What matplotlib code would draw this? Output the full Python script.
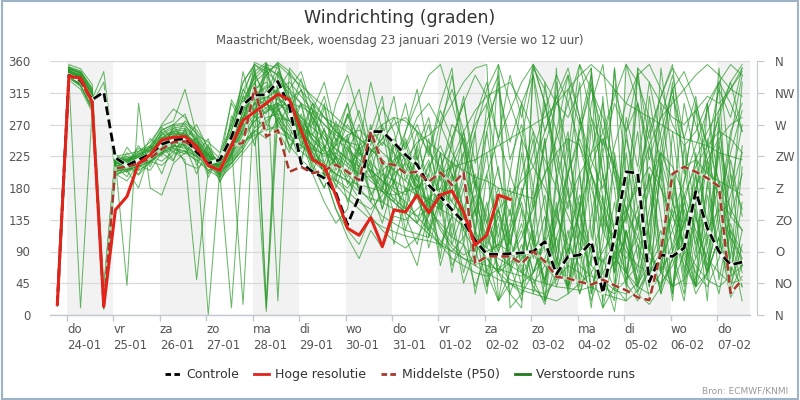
import numpy as np
import matplotlib
matplotlib.use("Agg")
import matplotlib.pyplot as plt
from matplotlib.lines import Line2D
from matplotlib.patches import Rectangle

# ---------------- data ----------------
day_names = ["do", "vr", "za", "zo", "ma", "di", "wo", "do", "vr", "za", "zo", "ma", "di", "wo", "do"]
day_dates = ["24-01", "25-01", "26-01", "27-01", "28-01", "29-01", "30-01", "31-01",
             "01-02", "02-02", "03-02", "04-02", "05-02", "06-02", "07-02"]
shaded_days = [0, 2, 4, 6, 8, 10, 12, 14]
compass_labels = ["N", "NO", "O", "ZO", "Z", "ZW", "W", "NW", "N"]
degree_ticks = [0, 45, 90, 135, 180, 225, 270, 315, 360]

start_hour = -5      # first forecast time, hours relative to 24-01 00:00
step_hours = 6

controle = [15, 340, 332, 305, 316, 223, 212, 220, 228, 242,
            248, 250, 231, 215, 220, 252, 298, 312, 312, 331,
            295, 215, 203, 194, 173, 128, 168, 260, 260, 244,
            227, 213, 184, 168, 149, 132, 106, 86, 86, 87,
            88, 90, 104, 58, 83, 85, 104, 31, 112, 203,
            201, 47, 85, 83, 95, 175, 123, 90, 71, 75]

hoge_resolutie = [15, 338, 336, 302, 12, 149, 168, 215, 227, 248,
                  252, 253, 239, 212, 205, 240, 276, 288, 300, 313,
                  305, 262, 220, 211, 169, 123, 113, 138, 97, 149,
                  146, 170, 145, 170, 176, 146, 99, 113, 170, 164]

middelste = [15, 340, 333, 300, 12, 208, 210, 215, 222, 235,
             245, 246, 235, 212, 205, 240, 244, 322, 253, 262,
             203, 210, 201, 205, 213, 203, 191, 260, 215, 213,
             201, 203, 189, 202, 184, 202, 73, 83, 83, 83,
             73, 90, 76, 54, 52, 47, 43, 50, 42, 35,
             25, 21, 90, 200, 210, 203, 194, 182, 31, 50]

verstoord_01 = [15, 345, 338, 305, 18, 212, 208, 218, 226, 238, 248, 250, 232, 212, 206, 245, 290, 305, 300, 285,
                240, 220, 205, 200, 190, 175, 160, 150, 170, 200, 215, 190, 160, 120, 95, 80, 70, 85, 100, 90,
                60, 45, 70, 110, 160, 200, 230, 250, 210, 170, 130, 90, 60, 40, 50, 80, 120, 150, 110, 80]
verstoord_02 = [12, 340, 330, 298, 12, 205, 215, 222, 230, 245, 255, 258, 240, 215, 200, 230, 270, 320, 330, 310,
                290, 260, 240, 225, 230, 215, 200, 205, 190, 175, 160, 140, 150, 130, 110, 100, 70, 60, 50, 45,
                40, 35, 30, 50, 70, 60, 40, 30, 25, 20, 35, 60, 90, 200, 210, 220, 200, 190, 180, 170]
verstoord_03 = [18, 350, 342, 310, 30, 220, 225, 215, 220, 232, 240, 238, 228, 218, 210, 260, 300, 340, 355, 350,
                300, 280, 250, 230, 215, 205, 235, 250, 260, 240, 220, 245, 255, 270, 300, 330, 350, 355, 20, 45,
                30, 355, 330, 300, 280, 320, 350, 10, 40, 20, 350, 330, 300, 280, 270, 290, 310, 300, 320, 345]
verstoord_04 = [15, 338, 325, 292, 8, 198, 205, 212, 222, 236, 242, 246, 236, 220, 204, 228, 262, 285, 298, 292,
                270, 245, 235, 228, 240, 255, 262, 248, 230, 215, 205, 180, 200, 150, 175, 120, 150, 95, 140, 80,
                120, 60, 110, 40, 95, 30, 80, 140, 60, 120, 45, 100, 30, 80, 20, 140, 60, 110, 35, 70]
verstoord_05 = [16, 343, 336, 300, 15, 210, 212, 225, 228, 250, 262, 265, 250, 225, 212, 255, 310, 358, 350, 340,
                320, 345, 290, 330, 260, 300, 235, 200, 180, 165, 150, 140, 120, 100, 80, 70, 60, 55, 65, 80,
                110, 150, 200, 230, 250, 240, 200, 160, 120, 90, 70, 60, 80, 120, 170, 210, 240, 260, 250, 230]
verstoord_06 = [14, 347, 340, 315, 25, 218, 42, 300, 180, 170, 215, 230, 220, 205, 195, 210, 230, 250, 270, 260,
                250, 240, 230, 215, 200, 190, 185, 180, 175, 170, 175, 180, 190, 200, 210, 215, 220, 230, 240, 250,
                260, 270, 280, 300, 320, 340, 355, 340, 320, 300, 290, 280, 270, 260, 250, 245, 240, 230, 225, 220]
verstoord_07 = [13, 335, 10, 290, 10, 208, 218, 228, 234, 258, 268, 270, 245, 225, 210, 240, 280, 300, 310, 320,
                330, 310, 290, 280, 270, 260, 250, 235, 220, 205, 190, 175, 160, 150, 140, 125, 110, 95, 80, 70,
                60, 50, 45, 40, 38, 35, 40, 60, 90, 140, 190, 240, 280, 300, 320, 340, 355, 340, 320, 310]
verstoord_08 = [15, 341, 333, 303, 22, 215, 215, 210, 218, 230, 238, 242, 232, 0, 205, 215, 235, 260, 5, 280,
                275, 265, 255, 240, 225, 210, 200, 195, 205, 220, 230, 190, 220, 160, 200, 130, 170, 100, 150, 80,
                130, 60, 110, 350, 40, 90, 20, 70, 160, 50, 100, 25, 80, 150, 40, 200, 90, 30, 120, 60]
verstoord_09 = [17, 352, 346, 320, 35, 225, 228, 232, 245, 268, 275, 320, 255, 230, 215, 275, 330, 355, 345, 330,
                315, 300, 290, 270, 250, 235, 220, 205, 190, 180, 170, 200, 150, 230, 140, 190, 120, 260, 150, 100,
                180, 110, 40, 150, 80, 200, 30, 120, 350, 60, 140, 40, 220, 90, 30, 160, 50, 250, 110, 40]
verstoord_10 = [14, 344, 337, 302, 16, 207, 211, 219, 224, 242, 251, 247, 235, 214, 203, 262, 318, 350, 20, 300,
                285, 255, 210, 180, 230, 270, 240, 200, 160, 190, 230, 170, 120, 160, 210, 250, 190, 140, 90, 130,
                200, 260, 150, 80, 40, 120, 230, 300, 200, 100, 50, 130, 240, 320, 210, 110, 60, 150, 260, 300]
verstoord_11 = [16, 337, 328, 296, 14, 202, 209, 214, 220, 233, 240, 236, 225, 216, 208, 222, 250, 275, 290, 300,
                310, 270, 230, 200, 150, 120, 100, 140, 180, 220, 260, 300, 340, 355, 300, 240, 180, 120, 60, 30,
                10, 350, 320, 260, 200, 140, 90, 50, 20, 355, 330, 280, 220, 160, 100, 60, 40, 80, 140, 200]
verstoord_12 = [15, 349, 343, 312, 28, 222, 218, 224, 229, 255, 260, 262, 248, 228, 214, 250, 292, 318, 340, 358,
                345, 320, 280, 250, 220, 200, 180, 160, 140, 130, 120, 115, 110, 200, 270, 250, 120, 80, 60, 75,
                85, 40, 20, 60, 110, 170, 90, 40, 30, 50, 70, 150, 230, 190, 80, 40, 60, 110, 170, 230]
verstoord_13 = [13, 342, 332, 299, 20, 213, 206, 216, 223, 240, 245, 240, 230, 210, 198, 215, 240, 265, 280, 285,
                275, 260, 240, 200, 150, 110, 80, 120, 95, 140, 135, 150, 165, 180, 160, 140, 110, 90, 100, 120,
                170, 230, 290, 340, 300, 240, 180, 120, 80, 60, 40, 30, 60, 100, 160, 220, 260, 290, 320, 350]
verstoord_14 = [15, 346, 339, 308, 24, 216, 213, 223, 231, 249, 258, 255, 240, 222, 209, 232, 275, 300, 310, 305,
                296, 280, 265, 250, 235, 222, 210, 230, 250, 270, 280, 260, 230, 210, 250, 300, 340, 310, 250, 200,
                150, 100, 70, 50, 90, 150, 210, 260, 310, 355, 300, 240, 180, 120, 70, 40, 90, 160, 230, 290]
verstoord_15 = [14, 339, 327, 294, 10, 203, 210, 217, 221, 231, 236, 233, 226, 213, 202, 220, 245, 255, 262, 268,
                255, 240, 225, 210, 200, 190, 175, 165, 160, 150, 145, 175, 210, 240, 200, 150, 100, 80, 60, 45,
                35, 30, 25, 20, 30, 45, 60, 90, 120, 150, 180, 210, 180, 140, 100, 70, 50, 40, 55, 70]
verstoord_16 = [17, 348, 344, 318, 33, 224, 220, 230, 238, 262, 270, 272, 258, 232, 217, 258, 300, 330, 345, 355,
                340, 325, 310, 295, 280, 265, 250, 235, 220, 205, 240, 280, 300, 270, 230, 200, 260, 320, 355, 300,
                250, 210, 260, 310, 350, 280, 220, 180, 240, 300, 340, 355, 320, 270, 240, 260, 300, 330, 300, 260]
verstoord_17 = [15, 343, 334, 301, 17, 209, 214, 220, 227, 244, 252, 252, 238, 219, 207, 238, 282, 310, 325, 315,
                300, 270, 248, 232, 300, 340, 280, 230, 250, 310, 210, 185, 155, 125, 100, 85, 95, 120, 150, 170,
                190, 210, 180, 140, 100, 70, 55, 50, 75, 110, 150, 190, 230, 210, 170, 120, 80, 60, 45, 50]
verstoord_18 = [14, 341, 330, 297, 13, 206, 207, 213, 219, 235, 244, 244, 234, 217, 205, 225, 255, 275, 288, 296,
                300, 295, 285, 270, 255, 245, 240, 255, 270, 280, 275, 260, 245, 230, 215, 205, 195, 190, 180, 175,
                170, 165, 200, 250, 300, 355, 320, 260, 200, 150, 110, 80, 65, 90, 130, 180, 220, 250, 270, 280]
verstoord_19 = [16, 350, 341, 311, 27, 219, 221, 226, 236, 256, 265, 268, 252, 226, 211, 248, 300, 345, 358, 20,
                350, 330, 305, 280, 260, 245, 230, 215, 200, 190, 180, 170, 165, 155, 190, 230, 270, 300, 340, 10,
                30, 60, 100, 150, 200, 250, 200, 150, 100, 60, 30, 15, 40, 80, 130, 180, 230, 280, 330, 355]
verstoord_20 = [15, 344, 335, 300, 19, 211, 209, 221, 225, 243, 250, 249, 237, 218, 206, 235, 268, 290, 300, 275,
                250, 232, 218, 204, 192, 180, 200, 225, 245, 230, 200, 165, 130, 105, 90, 110, 150, 200, 250, 290,
                330, 355, 300, 230, 170, 120, 90, 75, 100, 140, 200, 260, 310, 350, 320, 270, 220, 170, 140, 120]
verstoord_21 = [13, 336, 326, 293, 9, 200, 204, 211, 217, 229, 234, 232, 224, 212, 200, 218, 242, 260, 275, 290,
                305, 318, 300, 280, 260, 240, 215, 195, 175, 160, 145, 130, 115, 100, 90, 80, 75, 70, 65, 60,
                55, 90, 48, 110, 42, 160, 38, 80, 35, 120, 32, 70, 40, 160, 95, 40, 190, 90, 200, 150]
verstoord_22 = [16, 345, 337, 306, 345, 214, 216, 224, 232, 252, 260, 258, 244, 223, 211, 252, 305, 335, 352, 340,
                300, 250, 200, 160, 130, 150, 240, 330, 260, 180, 110, 70, 150, 260, 340, 240, 150, 60, 20, 120,
                250, 340, 200, 90, 40, 150, 300, 355, 220, 100, 40, 90, 200, 310, 250, 140, 70, 130, 250, 340]
verstoord_23 = [15, 342, 331, 298, 14, 206, 212, 218, 224, 237, 246, 245, 233, 216, 204, 226, 258, 280, 294, 300,
                290, 275, 255, 235, 215, 190, 165, 140, 120, 105, 95, 110, 140, 180, 220, 260, 290, 310, 320, 330,
                300, 260, 220, 180, 140, 100, 70, 50, 35, 30, 45, 70, 100, 140, 190, 240, 290, 330, 355, 340]
verstoord_24 = [14, 347, 339, 313, 26, 217, 219, 227, 233, 250, 257, 256, 242, 221, 209, 244, 288, 312, 322, 330,
                320, 300, 280, 255, 235, 220, 205, 190, 175, 160, 145, 130, 200, 275, 320, 260, 190, 130, 90, 70,
                90, 160, 240, 300, 340, 280, 200, 140, 100, 80, 110, 180, 260, 320, 345, 300, 240, 190, 150, 120]
verstoord_25 = [15, 340, 329, 295, 11, 204, 206, 215, 222, 239, 247, 251, 239, 220, 207, 229, 265, 292, 308, 318,
                290, 255, 225, 205, 185, 165, 150, 135, 125, 118, 112, 108, 105, 100, 140, 200, 160, 110, 70, 50,
                45, 60, 80, 130, 200, 260, 320, 280, 210, 150, 100, 60, 45, 70, 110, 160, 210, 170, 120, 90]
verstoord_26 = [14, 343, 335, 301, 15, 211, 196, 224, 215, 252, 238, 262, 226, 230, 196, 282, 255, 330, 270, 300,
                235, 265, 205, 240, 190, 255, 175, 220, 150, 205, 120, 185, 95, 160, 60, 140, 30, 110, 355, 60,
                150, 30, 120, 260, 340, 200, 70, 310, 40, 180, 300, 100, 350, 220, 60, 150, 20, 270, 140, 330]
verstoord_27 = [16, 351, 345, 322, 12, 216, 222, 206, 238, 225, 270, 243, 250, 200, 222, 238, 345, 280, 355, 262,
                230, 285, 248, 198, 270, 212, 240, 160, 215, 100, 165, 240, 190, 80, 200, 130, 260, 40, 170, 90,
                230, 110, 20, 190, 260, 80, 350, 160, 60, 230, 120, 310, 200, 30, 240, 90, 180, 330, 50, 210]
verstoord_28 = [15, 339, 326, 296, 28, 205, 230, 212, 205, 230, 218, 265, 212, 242, 188, 225, 290, 240, 320, 268,
                300, 220, 275, 190, 245, 300, 200, 260, 310, 185, 260, 320, 230, 300, 350, 200, 280, 330, 250, 340,
                280, 355, 300, 200, 320, 270, 340, 230, 300, 260, 340, 250, 310, 355, 200, 290, 240, 320, 280, 350]
verstoord_29 = [15, 346, 340, 310, 20, 220, 215, 232, 240, 270, 292, 280, 255, 245, 230, 268, 330, 355, 340, 358,
                290, 320, 255, 300, 220, 285, 250, 200, 265, 230, 150, 200, 110, 170, 70, 100, 40, 90, 20, 60,
                100, 50, 15, 80, 35, 120, 60, 10, 90, 45, 20, 70, 120, 40, 90, 30, 60, 110, 25, 55]
verstoord_30 = [13, 341, 332, 298, 18, 198, 210, 200, 225, 218, 232, 220, 50, 205, 215, 230, 262, 300, 285, 320,
                345, 260, 300, 235, 275, 225, 195, 250, 205, 160, 220, 180, 250, 150, 220, 120, 90, 160, 60, 110,
                40, 95, 170, 60, 230, 150, 280, 200, 120, 250, 180, 280, 60, 200, 110, 40, 170, 90, 220, 140]
verstoord_31 = [17, 355, 349, 327, 40, 228, 212, 240, 210, 246, 230, 255, 245, 195, 228, 300, 270, 345, 300, 280,
                260, 215, 290, 240, 180, 230, 270, 210, 150, 240, 300, 220, 270, 190, 240, 310, 180, 260, 330, 220,
                270, 180, 300, 220, 150, 260, 330, 200, 120, 280, 210, 330, 250, 160, 300, 220, 120, 240, 180, 270]
verstoord_32 = [14, 333, 320, 288, 12, 210, 205, 180, 232, 200, 245, 215, 208, 220, 190, 215, 235, 282, 260, 310,
                275, 300, 240, 200, 225, 160, 210, 175, 130, 190, 140, 100, 170, 70, 130, 45, 95, 30, 150, 70,
                20, 110, 50, 160, 30, 90, 200, 60, 5, 120, 60, 200, 100, 30, 150, 80, 250, 120, 40, 100]
verstoord_33 = [15, 347, 337, 300, 330, 200, 190, 215, 228, 242, 260, 240, 200, 238, 212, 305, 275, 355, 10, 345,
                320, 270, 230, 295, 210, 250, 190, 230, 180, 250, 200, 260, 160, 230, 110, 180, 80, 150, 210, 100,
                170, 250, 90, 330, 180, 50, 270, 120, 350, 200, 80, 240, 140, 20, 190, 300, 100, 230, 60, 160]
verstoord_34 = [16, 349, 343, 316, 22, 213, 224, 219, 250, 236, 265, 248, 270, 235, 200, 250, 280, 320, 302, 345,
                310, 240, 280, 215, 260, 245, 290, 230, 270, 205, 250, 195, 240, 170, 215, 150, 200, 130, 180, 110,
                160, 80, 140, 60, 120, 30, 100, 200, 70, 150, 40, 130, 210, 90, 170, 50, 110, 190, 70, 40]
verstoord_35 = [14, 338, 328, 295, 16, 204, 238, 216, 220, 260, 236, 228, 252, 210, 205, 240, 300, 265, 350, 295,
                250, 300, 220, 265, 195, 235, 210, 270, 185, 215, 245, 170, 215, 140, 250, 100, 190, 60, 130, 30,
                80, 180, 20, 140, 250, 110, 10, 170, 60, 260, 150, 40, 220, 330, 120, 200, 60, 280, 100, 20]
verstoord_36 = [15, 344, 336, 304, 24, 218, 208, 228, 238, 262, 270, 285, 240, 226, 218, 270, 320, 298, 340, 310,
                275, 250, 300, 260, 240, 285, 225, 265, 240, 280, 235, 270, 225, 290, 250, 300, 215, 275, 320, 245,
                300, 340, 260, 310, 230, 355, 280, 240, 320, 260, 300, 220, 280, 340, 250, 310, 200, 290, 330, 260]
verstoord_37 = [13, 336, 324, 291, 10, 201, 215, 198, 218, 212, 228, 232, 218, 228, 200, 10, 245, 262, 250, 278,
                240, 260, 215, 180, 225, 195, 240, 170, 200, 145, 180, 130, 160, 95, 140, 60, 120, 40, 90, 150,
                70, 120, 45, 200, 90, 150, 30, 100, 220, 60, 130, 200, 80, 40, 160, 100, 220, 50, 130, 70]
verstoord_38 = [16, 350, 344, 318, 30, 226, 218, 236, 232, 266, 248, 275, 262, 238, 222, 262, 310, 290, 358, 320,
                288, 335, 270, 310, 245, 280, 320, 240, 295, 260, 190, 240, 280, 200, 160, 230, 110, 300, 200, 140,
                250, 100, 330, 200, 60, 280, 160, 20, 230, 130, 350, 180, 60, 260, 140, 40, 300, 180, 80, 240]
verstoord_39 = [15, 342, 333, 302, 14, 208, 220, 205, 215, 240, 220, 250, 232, 205, 212, 242, 15, 312, 292, 290,
                265, 235, 290, 205, 250, 185, 230, 210, 175, 245, 175, 225, 140, 200, 100, 150, 70, 200, 110, 180,
                60, 130, 250, 90, 180, 40, 140, 230, 80, 170, 260, 110, 30, 200, 90, 170, 300, 140, 40, 120]
verstoord_40 = [14, 345, 338, 306, 19, 214, 202, 221, 240, 228, 256, 238, 228, 250, 195, 228, 290, 340, 310, 355,
                300, 275, 235, 262, 205, 240, 175, 255, 220, 190, 150, 235, 120, 210, 175, 260, 140, 230, 95, 200,
                300, 150, 250, 70, 200, 330, 110, 250, 180, 40, 200, 90, 300, 170, 50, 230, 130, 350, 200, 70]

verstoorde_runs = [verstoord_01, verstoord_02, verstoord_03, verstoord_04, verstoord_05,
                   verstoord_06, verstoord_07, verstoord_08, verstoord_09, verstoord_10,
                   verstoord_11, verstoord_12, verstoord_13, verstoord_14, verstoord_15,
                   verstoord_16, verstoord_17, verstoord_18, verstoord_19, verstoord_20,
                   verstoord_21, verstoord_22, verstoord_23, verstoord_24, verstoord_25,
                   verstoord_26, verstoord_27, verstoord_28, verstoord_29, verstoord_30,
                   verstoord_31, verstoord_32, verstoord_33, verstoord_34, verstoord_35,
                   verstoord_36, verstoord_37, verstoord_38, verstoord_39, verstoord_40]

# ---------------- plot ----------------
def times(n):
    return (start_hour + step_hours * np.arange(n)) / 24.0

fig = plt.figure(figsize=(8, 4), dpi=100)
fig.patch.set_facecolor("white")
ax = fig.add_axes([0.0625, 0.2125, 0.875, 0.635])

x0, x1 = -0.366, 14.71
ax.set_xlim(x0, x1)
ax.set_ylim(0, 360)

for d in shaded_days:
    ax.axvspan(d, d + 1, color="#f2f2f2", zorder=0, lw=0)

for v in degree_ticks:
    ax.axhline(v, color="#d9d9d9", lw=0.9, zorder=1)

green = "#2a9a2a"
for run in verstoorde_runs:
    ax.plot(times(len(run)), run, color=green, lw=0.75, alpha=0.7, zorder=2)

t_c = times(len(controle))
ax.plot(t_c, controle, color="white", lw=2.6, alpha=0.9, zorder=4)
ax.plot(t_c, controle, color="black", lw=2.0, ls=(0, (3.2, 1.6)), zorder=5)

t_m = times(len(middelste))
ax.plot(t_m, middelste, color="white", lw=2.4, alpha=0.6, zorder=4)
ax.plot(t_m, middelste, color="#a8372c", lw=1.8, ls=(0, (3.2, 1.6)), zorder=5)

t_h = times(len(hoge_resolutie))
ax.plot(t_h, hoge_resolutie, color="#e0241b", lw=2.2, zorder=6)

for s in ["left", "top", "right"]:
    ax.spines[s].set_visible(False)
ax.spines["bottom"].set_color("#c0c8d0")
ax.spines["bottom"].set_linewidth(1.0)

ax.set_yticks(degree_ticks)
ax.set_yticklabels([str(v) for v in degree_ticks])
ax.tick_params(axis="y", length=0, pad=14, labelsize=8.5, labelcolor="#555555")

ax.set_xticks(np.arange(len(day_names)))
ax.set_xticklabels([f"{n}\n{d}" for n, d in zip(day_names, day_dates)],
                   ha="left", linespacing=1.25)
ax.tick_params(axis="x", length=4, width=1, color="#c0c8d0", pad=2,
               labelsize=8.5, labelcolor="#555555")

ax2 = ax.twinx()
ax2.set_ylim(0, 360)
ax2.set_yticks(degree_ticks)
ax2.set_yticklabels(compass_labels)
for s in ["left", "top", "bottom"]:
    ax2.spines[s].set_visible(False)
ax2.spines["right"].set_position(("outward", 5))
ax2.spines["right"].set_color("#c0c8d0")
ax2.tick_params(axis="y", length=5, color="#c0c8d0", pad=8, labelsize=8.5, labelcolor="#555555")

fig.text(0.5, 0.955, "Windrichting (graden)", ha="center", va="center",
         fontsize=12.5, color="#333333")
fig.text(0.5, 0.898, "Maastricht/Beek, woensdag 23 januari 2019 (Versie wo 12 uur)",
         ha="center", va="center", fontsize=8.4, color="#555555")

handles = [
    Line2D([], [], color="black", lw=2, ls=(0, (2, 1.2))),
    Line2D([], [], color="#e0241b", lw=2),
    Line2D([], [], color="#a8372c", lw=2, ls=(0, (2, 1.2))),
    Line2D([], [], color="#1f7a1f", lw=2),
]
labels = ["Controle", "Hoge resolutie", "Middelste (P50)", "Verstoorde runs"]
fig.legend(handles, labels, loc="center", bbox_to_anchor=(0.5, 0.063), ncol=4,
           frameon=False, fontsize=9, handlelength=1.2, handletextpad=0.5,
           columnspacing=1.2, labelcolor="#333333")

fig.text(0.985, 0.022, "Bron: ECMWF/KNMI", ha="right", va="center",
         fontsize=6.5, color="#999999")

fig.add_artist(Rectangle((0.002, 0.003), 0.996, 0.994, transform=fig.transFigure,
                         fill=False, edgecolor="#9fb3c6", lw=1.5))

fig.savefig("out.png", dpi=100)
